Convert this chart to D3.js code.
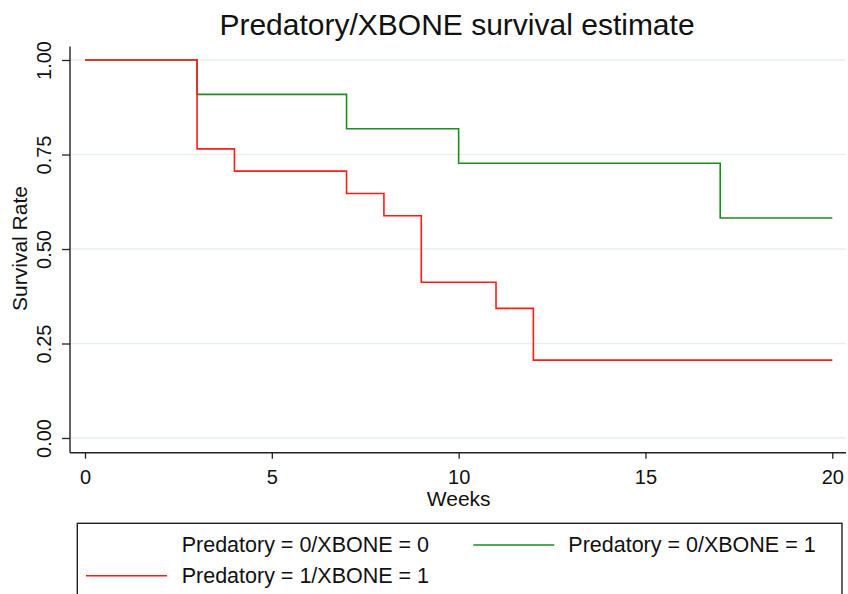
<!DOCTYPE html>
<html lang="en">
<head>
    <meta charset="UTF-8">
    <title>Predatory/XBONE survival estimate</title>
    <script src="https://d3js.org/d3.v7.min.js"></script>
    <style>
        body { margin: 0; background: #fff; }
        text { font-family: "Liberation Sans", Arial, sans-serif; fill: #111; }
    </style>
</head>
<body>
    <div id="chart-container"></div>

    <script>
        // Kaplan-Meier step values
        const groupLabels = ["Predatory = 0/XBONE = 0", "Predatory = 0/XBONE = 1", "Predatory = 1/XBONE = 1"];
        const groupColors = ["none", "#1c8c1c", "#ff1a1a"];

        const weeks00 = [];
        const surv00 = [];
        const weeks01 = [0, 3, 7, 10, 17, 20];
        const surv01 = [1.0, 0.909, 0.818, 0.727, 0.582, 0.582];
        const weeks11 = [0, 3, 4, 7, 8, 9, 11, 12, 20];
        const surv11 = [1.0, 0.765, 0.706, 0.647, 0.588, 0.412, 0.343, 0.206, 0.206];

        const xTicks = [0, 5, 10, 15, 20];
        const yTicks = [0, 0.25, 0.5, 0.75, 1];

        const width = 848, height = 594;
        const plot = { left: 70, right: 846, top: 46.5, bottom: 452.7 };

        const svg = d3.select("#chart-container")
            .append("svg")
            .attr("width", width)
            .attr("height", height);

        svg.append("rect").attr("width", width).attr("height", height).attr("fill", "#fff");

        const x = d3.scaleLinear().domain([0, 20]).range([85, 832.3]);
        const y = d3.scaleLinear().domain([0, 1]).range([438, 60]);

        // grid
        svg.append("g").selectAll("line")
            .data(yTicks)
            .enter().append("line")
            .attr("x1", plot.left).attr("x2", plot.right)
            .attr("y1", d => y(d)).attr("y2", d => y(d))
            .attr("stroke", "#e8eef1")
            .attr("stroke-width", 1.3);

        // y-axis
        const yAxis = svg.append("g")
            .attr("transform", "translate(" + plot.left + ",0)")
            .call(d3.axisLeft(y).tickValues(yTicks).tickFormat(d3.format(".2f")).tickSize(8).tickSizeOuter(0));
        yAxis.select(".domain").remove();
        yAxis.selectAll(".tick line").attr("stroke", "#222").attr("stroke-width", 1.3);
        yAxis.selectAll(".tick text")
            .attr("x", null).attr("dy", null)
            .attr("transform", "translate(-19.3,0) rotate(-90)")
            .attr("text-anchor", "middle")
            .style("font-size", "20px")
            .style("font-family", "'Liberation Sans', Arial, sans-serif")
            .attr("fill", "#111");

        // x-axis
        const xAxis = svg.append("g")
            .attr("transform", "translate(0," + plot.bottom + ")")
            .call(d3.axisBottom(x).tickValues(xTicks).tickSize(6).tickSizeOuter(0));
        xAxis.select(".domain").remove();
        xAxis.selectAll(".tick line").attr("stroke", "#222").attr("stroke-width", 1.3);
        xAxis.selectAll(".tick text")
            .attr("y", 31.3).attr("dy", null)
            .style("font-size", "20px")
            .style("font-family", "'Liberation Sans', Arial, sans-serif")
            .attr("fill", "#111");

        // axis lines
        svg.append("line")
            .attr("x1", plot.left).attr("x2", plot.left)
            .attr("y1", plot.top).attr("y2", plot.bottom)
            .attr("stroke", "#222").attr("stroke-width", 1.4);
        svg.append("line")
            .attr("x1", plot.left).attr("x2", plot.right)
            .attr("y1", plot.bottom).attr("y2", plot.bottom)
            .attr("stroke", "#222").attr("stroke-width", 1.4);

        // survival curves
        const line = d3.line()
            .x(d => x(d[0]))
            .y(d => y(d[1]))
            .curve(d3.curveStepAfter);

        const series = [
            { pts: d3.zip(weeks00, surv00), color: groupColors[0] },
            { pts: d3.zip(weeks01, surv01), color: groupColors[1] },
            { pts: d3.zip(weeks11, surv11), color: groupColors[2] }
        ];

        svg.append("g").selectAll("path")
            .data(series.filter(s => s.pts.length > 0))
            .enter().append("path")
            .attr("d", d => line(d.pts))
            .attr("fill", "none")
            .attr("stroke", d => d.color)
            .attr("stroke-width", 1.6);

        // title
        svg.append("text")
            .attr("x", 457)
            .attr("y", 35)
            .attr("text-anchor", "middle")
            .style("font-size", "30px")
            .text("Predatory/XBONE survival estimate");

        // axis titles
        svg.append("text")
            .attr("transform", "translate(27.3,248.5) rotate(-90)")
            .attr("text-anchor", "middle")
            .style("font-size", "21px")
            .text("Survival Rate");

        svg.append("text")
            .attr("x", 458.7)
            .attr("y", 506)
            .attr("text-anchor", "middle")
            .style("font-size", "21px")
            .text("Weeks");

        // legend
        svg.append("rect")
            .attr("x", 77.3).attr("y", 523.3)
            .attr("width", 842 - 77.3).attr("height", 100)
            .attr("fill", "#fff")
            .attr("stroke", "#222").attr("stroke-width", 1.4);

        const legendPos = [
            { kx: 86, tx: 181.7, ly: 545, ty: 551.7 },
            { kx: 473.3, tx: 568.3, ly: 545, ty: 551.7 },
            { kx: 86, tx: 181.7, ly: 575.7, ty: 582.7 }
        ];

        const legend = svg.append("g").selectAll("g")
            .data(groupLabels)
            .enter().append("g");

        legend.append("line")
            .attr("x1", (d, i) => legendPos[i].kx)
            .attr("x2", (d, i) => legendPos[i].kx + 81)
            .attr("y1", (d, i) => legendPos[i].ly)
            .attr("y2", (d, i) => legendPos[i].ly)
            .attr("stroke", (d, i) => groupColors[i])
            .attr("stroke-width", 1.6);

        legend.append("text")
            .attr("x", (d, i) => legendPos[i].tx)
            .attr("y", (d, i) => legendPos[i].ty)
            .style("font-size", "21.5px")
            .text(d => d);
    </script>
</body>
</html>
